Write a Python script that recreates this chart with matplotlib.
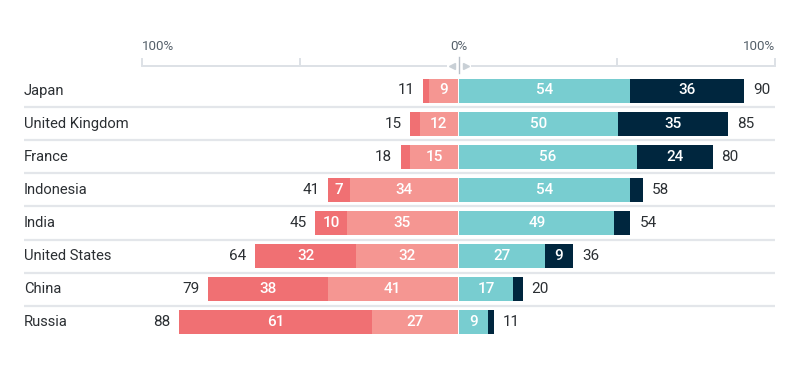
import matplotlib
matplotlib.use("Agg")
import matplotlib.pyplot as plt
from matplotlib.transforms import blended_transform_factory

countries = ["Japan", "United Kingdom", "France", "Indonesia", "India",
             "United States", "China", "Russia"]
very_neg = [2, 3, 3, 7, 10, 32, 38, 61]
somewhat_neg = [9, 12, 15, 34, 35, 32, 41, 27]
somewhat_pos = [54, 50, 56, 54, 49, 27, 17, 9]
very_pos = [36, 35, 24, 4, 5, 9, 3, 2]
neg_total = [11, 15, 18, 41, 45, 64, 79, 88]
pos_total = [90, 85, 80, 58, 54, 36, 20, 11]
tick_values = [-100, -50, 0, 50, 100]
tick_labels = ["100%", "", "0%", "", "100%"]

C_VNEG = "#F07073"
C_NEG = "#F59692"
C_POS = "#78CDD0"
C_VPOS = "#00263E"
C_TEXT = "#2B2F33"
C_GRID = "#E3E6EA"
C_AXIS = "#DDE1E6"
C_TICKTXT = "#55606A"

plt.rcParams["font.family"] = ["Roboto", "DejaVu Sans"]

W, H = 800, 367
fig = plt.figure(figsize=(W / 100, H / 100), dpi=100)
ax = fig.add_axes([142 / W, 0, (775 - 142) / W, 1])
ax.set_xlim(-100, 100)
row_px = 33.14
top_px = 90.5
ax.set_ylim((H - top_px) / row_px, -top_px / row_px)
ax.axis("off")

def py(p):
    return (p - top_px) / row_px

pxu = (775 - 142) / 200.0

ys = list(range(len(countries)))
g = 0.28
h = 24 / row_px

ax.barh(ys, [-v for v in somewhat_neg], left=-g, height=h, color=C_NEG, linewidth=0)
ax.barh(ys, [-v for v in very_neg], left=[-g - v for v in somewhat_neg], height=h,
        color=C_VNEG, linewidth=0)
ax.barh(ys, somewhat_pos, left=g, height=h, color=C_POS, linewidth=0)
ax.barh(ys, very_pos, left=[g + v for v in somewhat_pos], height=h, color=C_VPOS, linewidth=0)

fs = 10.6
fsn = 11
wt = "medium"
for i, c in enumerate(countries):
    # segment labels
    if very_neg[i] >= 6:
        ax.text(-g - somewhat_neg[i] - very_neg[i] / 2, i, str(very_neg[i]), color="white",
                ha="center", va="center", fontsize=fsn, fontweight=wt)
    if somewhat_neg[i] >= 6:
        ax.text(-g - somewhat_neg[i] / 2, i, str(somewhat_neg[i]), color="white",
                ha="center", va="center", fontsize=fsn, fontweight=wt)
    if somewhat_pos[i] >= 6:
        ax.text(g + somewhat_pos[i] / 2, i, str(somewhat_pos[i]), color="white",
                ha="center", va="center", fontsize=fsn, fontweight=wt)
    if very_pos[i] >= 6:
        ax.text(g + somewhat_pos[i] + very_pos[i] / 2, i, str(very_pos[i]), color="white",
                ha="center", va="center", fontsize=fsn, fontweight=wt)
    # totals
    ax.annotate(str(neg_total[i]), (-g - somewhat_neg[i] - very_neg[i], i),
                xytext=(-6, 0), textcoords="offset points", ha="right", va="center",
                fontsize=fsn, color=C_TEXT)
    ax.annotate(str(pos_total[i]), (g + somewhat_pos[i] + very_pos[i], i),
                xytext=(6.5, 0), textcoords="offset points", ha="left", va="center",
                fontsize=fsn, color=C_TEXT)

# country labels
bt = blended_transform_factory(fig.transFigure, ax.transData)
for i, c in enumerate(countries):
    ax.text(24 / W, i, c, transform=bt, ha="left", va="center", fontsize=fs, color=C_TEXT)

# row separators
for i in range(len(countries) - 1):
    ax.plot([24 / W, 775 / W], [i + 0.5, i + 0.5], transform=bt, color=C_GRID,
            lw=1.6, solid_capstyle="butt", clip_on=False)

# top axis
ya = py(66)
ax.plot([-100, -12 / pxu], [ya, ya], color=C_AXIS, lw=1.4, clip_on=False, solid_capstyle="butt")
ax.plot([12 / pxu, 100], [ya, ya], color=C_AXIS, lw=1.4, clip_on=False, solid_capstyle="butt")
for v, lab in zip(tick_values, tick_labels):
    if v == 0:
        ax.plot([0, 0], [py(57), py(73)], color="#B8C0C8", lw=1.0, clip_on=False)
    else:
        ax.plot([v, v], [py(59), ya], color=C_AXIS, lw=1.4, clip_on=False)
    if lab:
        ha = "left" if v < 0 else ("right" if v > 0 else "center")
        ax.text(v, py(47), lab, ha=ha, va="center", fontsize=9.6, color=C_TICKTXT)
ax.plot([-7 / pxu], [ya], marker="<", color="#C9D0D6", markersize=5, clip_on=False)
ax.plot([7 / pxu], [ya], marker=">", color="#C9D0D6", markersize=5, clip_on=False)

fig.savefig("out.png", dpi=100)
